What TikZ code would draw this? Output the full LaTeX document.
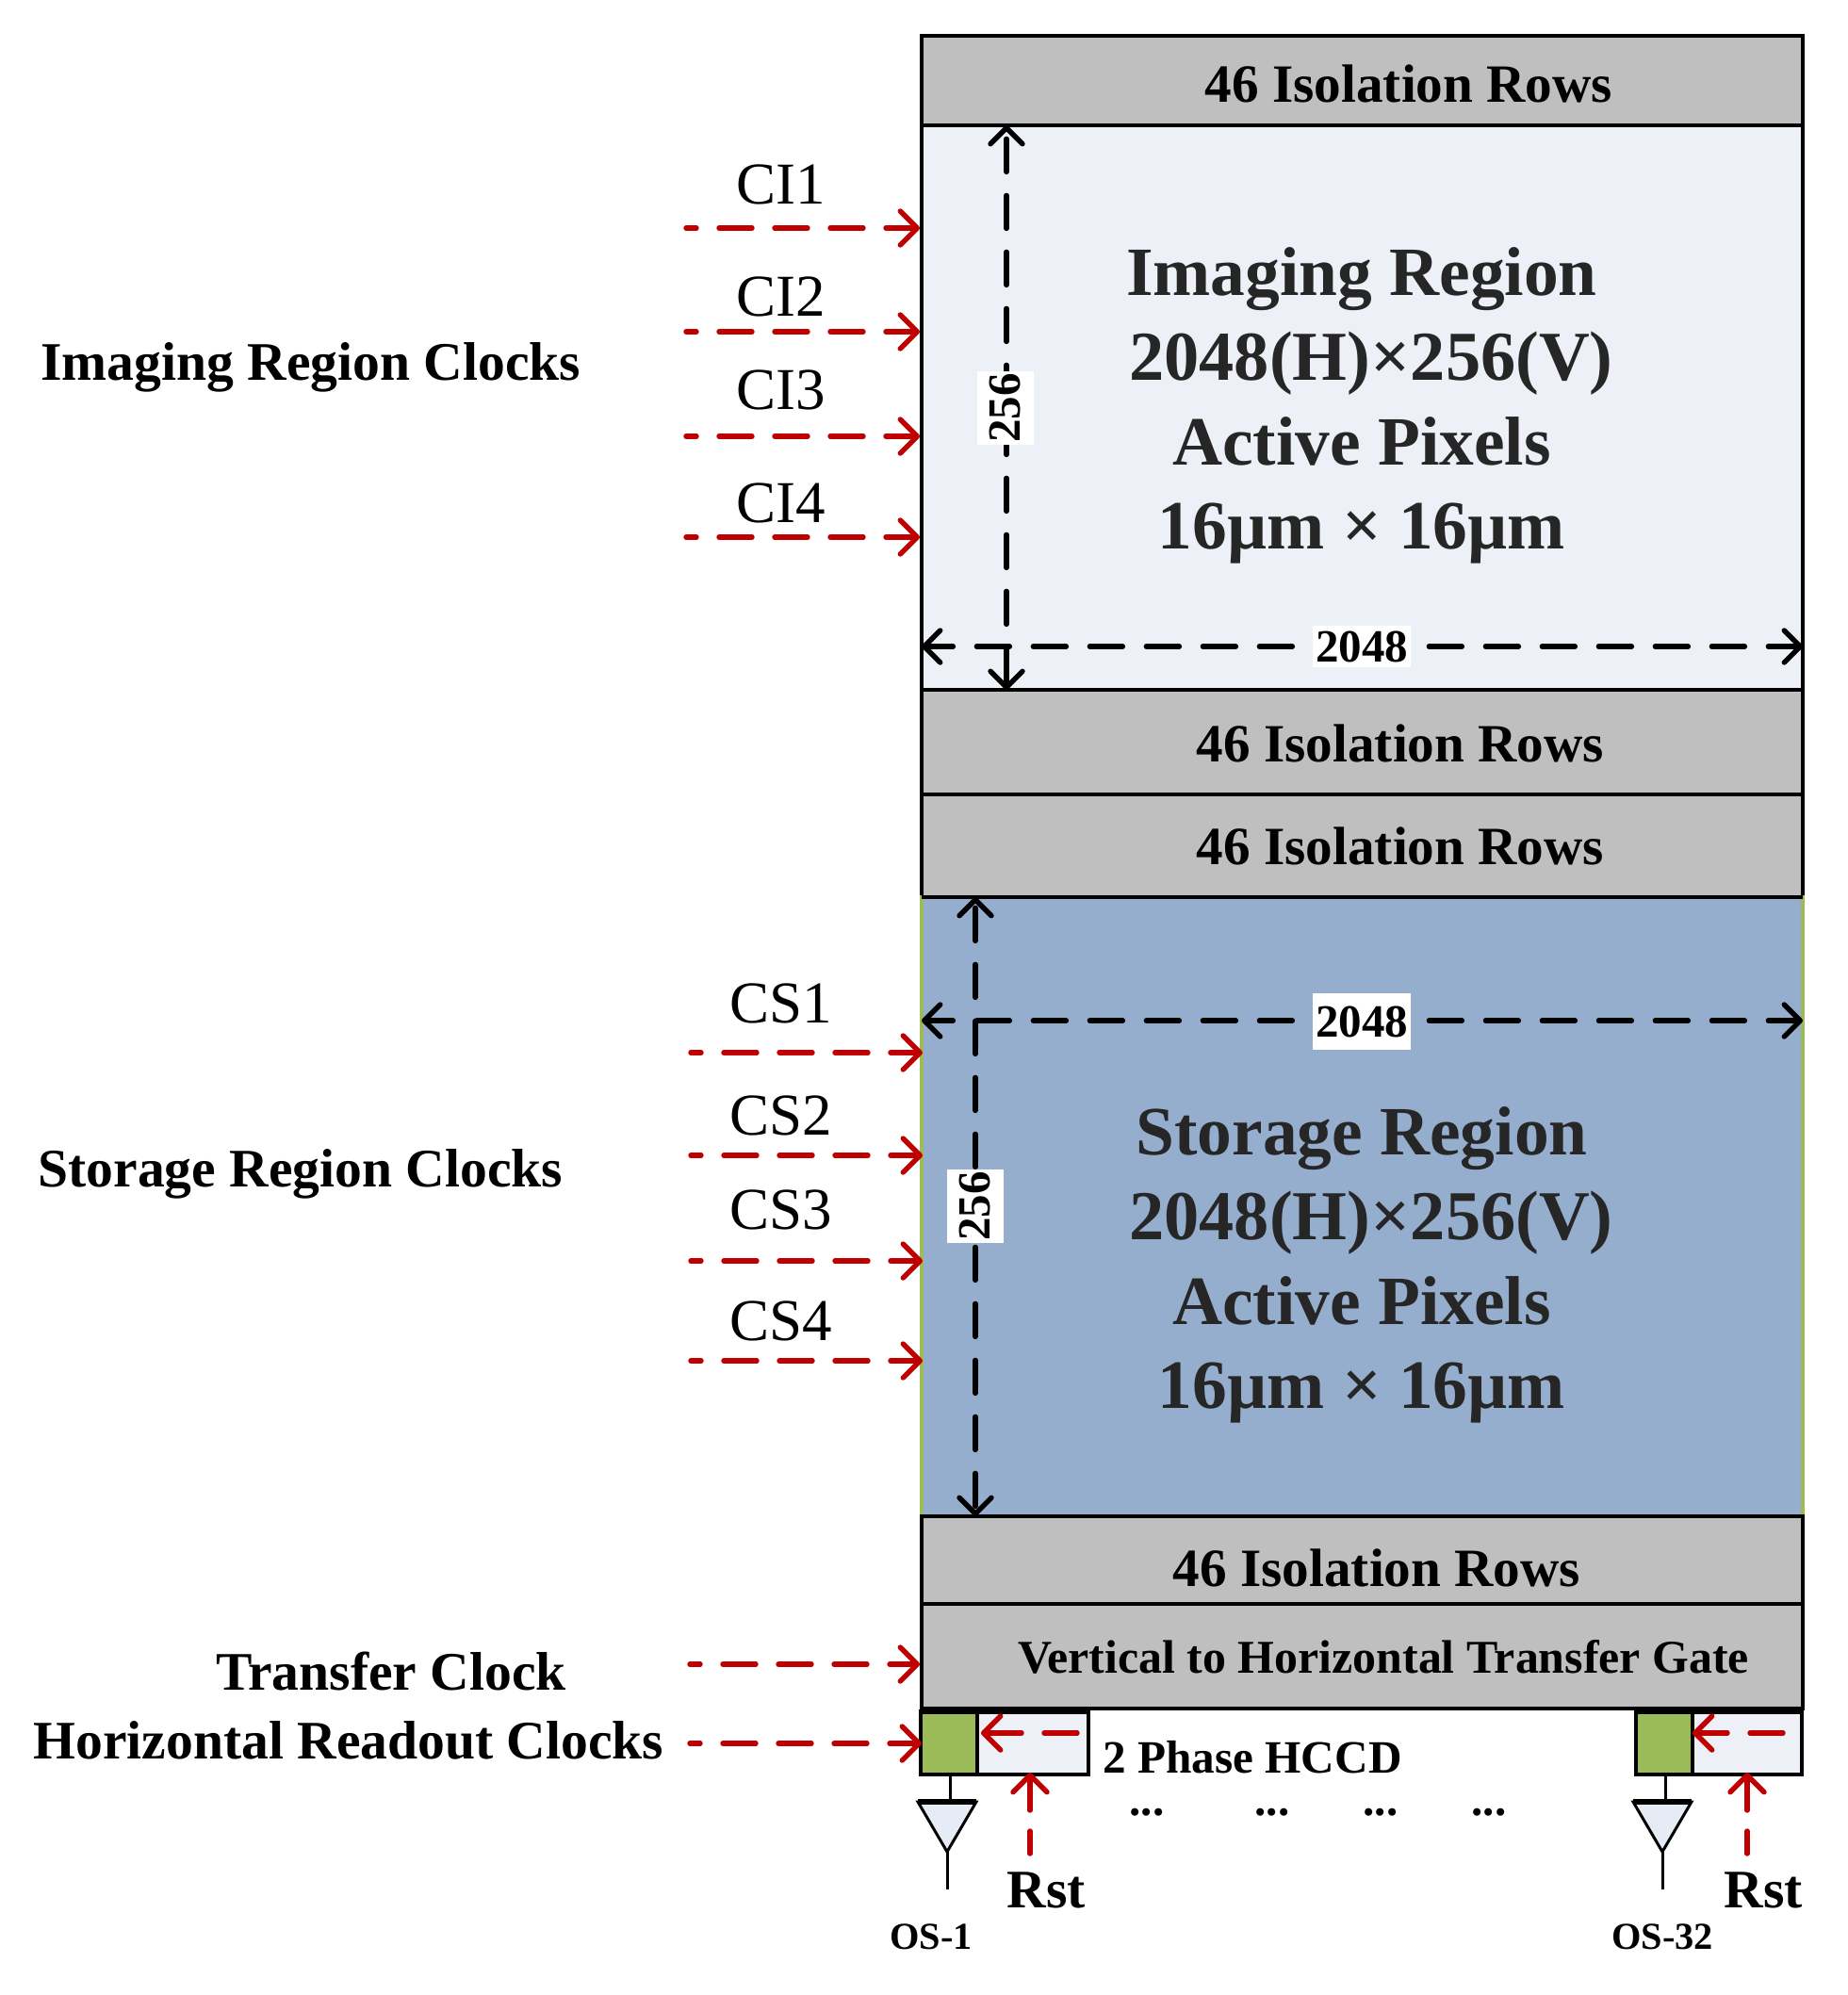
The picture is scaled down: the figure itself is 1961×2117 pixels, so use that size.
\documentclass[tikz,border=0pt]{standalone}
\usepackage{fontspec}
\setmainfont{Liberation Serif}
\usetikzlibrary{arrows.meta}
\definecolor{cgray}{HTML}{BFBFBF}
\definecolor{cpale}{HTML}{EDF0F6}
\definecolor{cblue}{HTML}{95AECE}
\definecolor{cgreen}{HTML}{9BBB59}
\definecolor{cred}{HTML}{C00000}
\definecolor{ctext}{HTML}{262626}
\definecolor{ctri}{HTML}{E6ECF6}
\newcommand{\fsz}[1]{\fontsize{#1}{#1}\selectfont}
\tikzset{
  x=0.5pt,y=-0.5pt,
  regionbox/.style={draw=black,line width=2pt,rectangle,inner sep=0pt,outer sep=0pt,anchor=north west},
  redarrow/.style={draw=cred,line width=2.7pt,line cap=round,dash pattern=on 17.5pt off 12pt,
     -{Straight Barb[length=9pt,width=18pt,line width=2.7pt,round]}},
  blackarrow/.style={draw=black,line width=2.7pt,line cap=round,dash pattern=on 17.5pt off 12.5pt,
     {Straight Barb[length=8.5pt,width=17pt,line width=2.7pt,round]}-{Straight Barb[length=8.5pt,width=17pt,line width=2.7pt,round]}},
  isolabel/.style={font=\bfseries\fsz{28.6},inner sep=0pt},
  regiontitle/.style={font=\bfseries\fsz{36.7},text=ctext,inner sep=0pt,anchor=base},
  cklabel/.style={font=\fsz{31.5},inner sep=0pt},
  grouplabel/.style={font=\bfseries\fsz{28.8},inner sep=0pt},
  smalllabel/.style={font=\bfseries\fsz{24.6},inner sep=0pt},
  gatelabel/.style={font=\bfseries\fsz{24.95},inner sep=0pt},
  dimlabel/.style={font=\bfseries\fsz{24.5},fill=white,inner sep=0pt,minimum width=50pt,minimum height=28pt},
  rstlabel/.style={font=\bfseries\fsz{28.8},inner sep=0pt},
  oslabel/.style={font=\bfseries\fsz{20.2},inner sep=0pt},
  wire/.style={draw=black,line width=1.5pt},
  amp/.style={draw=black,line width=1.5pt,fill=ctri,line join=miter},
}
\begin{document}
\begin{tikzpicture}
\useasboundingbox (0,0) rectangle (1961,2117);
% boxes
\node[regionbox,fill=cgray,minimum width=467.5pt,minimum height=47.5pt] (iso1) at (978,38) {};
\node[regionbox,fill=cpale,minimum width=467.5pt,minimum height=299.5pt] (img) at (978,133) {};
\node[regionbox,fill=cgray,minimum width=467.5pt,minimum height=55.5pt] (iso2) at (978,732) {};
\node[regionbox,fill=cgray,minimum width=467.5pt,minimum height=54.5pt] (iso3) at (978,843) {};
\node[regionbox,draw=cgreen,fill=cblue,minimum width=467.5pt,minimum height=328.5pt] (sto) at (978,952) {};
\draw[line width=2pt] (sto.north west) -- (sto.north east);
\node[regionbox,fill=cgray,minimum width=467.5pt,minimum height=46.5pt] (iso4) at (978,1609) {};
\node[regionbox,fill=cgray,minimum width=467.5pt,minimum height=55.5pt] (gate) at (978,1702) {};
% HCCD
\node[regionbox,fill=cpale,minimum width=59pt,minimum height=33.5pt] (pa) at (1037,1816) {};
\node[regionbox,fill=cgreen,minimum width=30pt,minimum height=33.5pt] (ga) at (977,1816) {};
\node[regionbox,fill=cpale,minimum width=58pt,minimum height=33.5pt] (pb) at (1796,1816) {};
\node[regionbox,fill=cgreen,minimum width=30pt,minimum height=33.5pt] (gb) at (1736,1816) {};
\draw[line width=3pt] (ga.north west) -- (pa.north east);
\draw[line width=3pt] (gb.north west) -- (pb.north east);
% output amplifiers
\coordinate (ta1) at (1005,1965);
\coordinate (ta2) at (974,1912);
\coordinate (ta3) at (1036,1912);
\coordinate (te1) at (1005,2005);
\coordinate (tb1) at (1764,1965);
\coordinate (tb2) at (1733,1912);
\coordinate (tb3) at (1795,1912);
\coordinate (te2) at (1764,2005);
\draw[wire] (1008,1883) -- (1008,1912);
\draw[wire] (1767,1883) -- (1767,1912);
\draw[amp] (ta2) -- (ta3) -- (ta1) -- cycle;
\draw[amp] (tb2) -- (tb3) -- (tb1) -- cycle;
\draw[line width=3pt] (ta2) -- (ta3);
\draw[line width=3pt] (tb2) -- (tb3);
\draw[wire] (ta1) -- (te1);
\draw[wire] (tb1) -- (te2);
% free ends
\coordinate (ci1) at (728,242);
\coordinate (ci2) at (728,352);
\coordinate (ci3) at (728,463);
\coordinate (ci4) at (728,570);
\coordinate (cs1) at (733,1117);
\coordinate (cs2) at (733,1226);
\coordinate (cs3) at (733,1338);
\coordinate (cs4) at (733,1444);
\coordinate (tr) at (732,1766);
\coordinate (ho) at (732,1850);
\coordinate (ra) at (1143,1839);
\coordinate (rb) at (1892,1839);
\coordinate (rsa) at (1093,1967);
\coordinate (rsb) at (1854,1967);
\coordinate (dv1) at (1068,433);
\coordinate (dv2) at (1035,1280);
\coordinate (dh1) at (1445,686);
\coordinate (dh2) at (1445,1083);
% red arrows
\foreach \c in {ci1,ci2,ci3,ci4}
  \draw[redarrow,dash phase=12pt] (\c) -- ([xshift=-1pt]\c -| img.west);
\foreach \c in {cs1,cs2,cs3,cs4}
  \draw[redarrow,dash phase=12pt] (\c) -- ([xshift=0.5pt]\c -| sto.west);
\draw[redarrow,dash phase=12pt] (tr) -- ([xshift=-1pt]tr -| gate.west);
\draw[redarrow,dash phase=12pt] (ho) -- ([xshift=0.5pt]ho -| ga.west);
\draw[redarrow,dash phase=0pt] (ra) -- ([xshift=2pt]ra -| pa.west);
\draw[redarrow,dash phase=0pt] (rb) -- (rb -| pb.west);
\draw[redarrow,dash pattern=on 12pt off 11pt on 20pt off 10pt] (rsa) -- ([yshift=1pt]rsa |- pa.south);
\draw[redarrow,dash pattern=on 12pt off 11pt on 20pt off 10pt] (rsb) -- ([yshift=1pt]rsb |- pb.south);
% dimension arrows
\draw[blackarrow,dash phase=25.5pt] (dv1 |- img.north) -- (dv1 |- img.south);
\draw[blackarrow,dash phase=3.5pt] (dh1 -| img.west) -- (dh1 -| img.east);
\draw[blackarrow,dash phase=27pt] (dv2 |- sto.north) -- (dv2 |- sto.south);
\draw[blackarrow,dash phase=3.5pt] (dh2 -| sto.west) -- (dh2 -| sto.east);
\node[dimlabel,rotate=90,minimum width=39pt,minimum height=30pt] (n256a) at (1067,433) {256};
\node[dimlabel,minimum height=22pt,minimum width=52pt] (n2048a) at (1445,686) {2048};
\node[dimlabel,rotate=90,minimum width=39pt,minimum height=30pt] (n256b) at (1035,1280) {256};
\node[dimlabel,minimum width=52pt,minimum height=30pt] (n2048b) at (1445,1084) {2048};
% texts
\node[isolabel] (t1) at (1495,89) {46 Isolation Rows};
\node[isolabel] (t2) at (1486,789) {46 Isolation Rows};
\node[isolabel] (t3) at (1486,898) {46 Isolation Rows};
\node[isolabel] (t4) at (1461,1664) {46 Isolation Rows};
\node[gatelabel] (tg) at (1468,1758) {Vertical to Horizontal Transfer Gate};
\node[regiontitle] (a1) at (1445,313) {Imaging Region};
\node[regiontitle,font=\bfseries\fsz{37.2}] (a2) at (1455,403) {2048(H)×256(V)};
\node[regiontitle] (a3) at (1445,493) {Active Pixels};
\node[regiontitle] (a4) at (1445,582) {16µm × 16µm};
\node[regiontitle] (b1) at (1445,1225) {Storage Region};
\node[regiontitle,font=\bfseries\fsz{37.2}] (b2) at (1455,1315) {2048(H)×256(V)};
\node[regiontitle] (b3) at (1445,1405) {Active Pixels};
\node[regiontitle] (b4) at (1445,1494) {16µm × 16µm};
\node[cklabel] (l1) at (829,196) {CI1};
\node[cklabel] (l2) at (829,315) {CI2};
\node[cklabel] (l3) at (829,414) {CI3};
\node[cklabel] (l4) at (829,534) {CI4};
\node[cklabel] (l5) at (829,1065) {CS1};
\node[cklabel] (l6) at (829,1184) {CS2};
\node[cklabel] (l7) at (829,1284) {CS3};
\node[cklabel] (l8) at (829,1402) {CS4};
\node[grouplabel] (g1) at (330,390) {Imaging Region Clocks};
\node[grouplabel] (g2) at (319,1246) {Storage Region Clocks};
\node[grouplabel] (g3) at (415,1773) {Transfer Clock};
\node[grouplabel] (g4) at (370,1847) {Horizontal Readout Clocks};
\node[smalllabel] (hc) at (1329,1865) {2 Phase HCCD};
\node[smalllabel,anchor=base] (d1) at (1217,1926) {...};
\node[smalllabel,anchor=base] (d2) at (1350,1926) {...};
\node[smalllabel,anchor=base] (d3) at (1465,1926) {...};
\node[smalllabel,anchor=base] (d4) at (1580,1926) {...};
\node[rstlabel] (r1) at (1110,2006) {Rst};
\node[rstlabel] (r2) at (1871,2006) {Rst};
\node[oslabel] (o1) at (988,2055) {OS-1};
\node[oslabel] (o2) at (1764,2055) {OS-32};
\end{tikzpicture}
\end{document}
